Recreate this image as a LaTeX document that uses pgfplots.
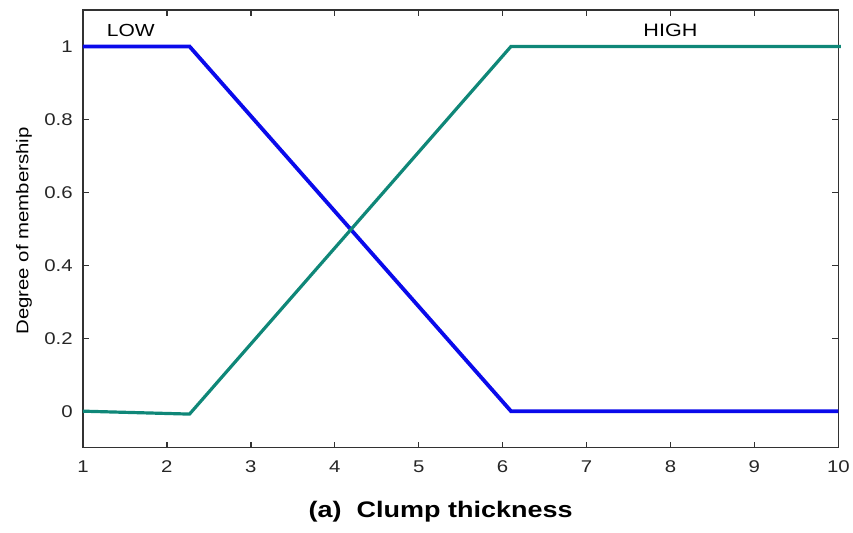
\documentclass[border=0pt]{standalone}
\usepackage{pgfplots}
\pgfplotsset{compat=1.18}
\usepackage{fontspec}
\setmainfont{Liberation Sans}[FakeStretch=1.2]
\definecolor{mfblue}{RGB}{10,10,235}
\definecolor{mfteal}{RGB}{15,135,120}
\definecolor{axgray}{RGB}{50,50,50}
\begin{document}
\begin{tikzpicture}
\begin{axis}[
  scale only axis,
  width=756pt, height=438pt,
  xmin=1, xmax=10, ymin=-0.1, ymax=1.1,
  xtick={1,2,...,10},
  ytick={0,0.2,0.4,0.6,0.8,1},
  yticklabels={0,0.2,0.4,0.6,0.8,1},
  tick align=inside,
  major tick length=6pt,
  axis line style={axgray, line width=1.6pt},
  tick style={axgray, line width=1.4pt},
  tick label style={font=\fontsize{17}{19}\selectfont, text=black!85},
  /pgf/number format/assume math mode=true,
  xticklabel style={anchor=center, yshift=-19pt},
  yticklabel style={anchor=east, inner sep=0pt, xshift=-10pt},
  ylabel={Degree of membership},
  ylabel style={font=\fontsize{17}{19}\selectfont, at={(rel axis cs:-0.078,0.495)}, anchor=center},
  clip=false,
]
\addplot[mfblue, line width=3.8pt] coordinates {(1,1) (2.27,1) (6.1,0) (10,0)};
\addplot[mfteal, line width=3.2pt] coordinates {(1,0) (2.27,-0.008) (6.1,1) (10.03,1)};
\node[font=\fontsize{17.5}{19}\selectfont] at (axis cs:1.57,1.044) {LOW};
\node[font=\fontsize{18}{20}\selectfont] at (axis cs:8.0,1.044) {HIGH};
\node[font=\bfseries\fontsize{22.5}{26}\selectfont, anchor=base] at (axis cs:5.262,-0.292) {(a)\ \ Clump thickness};
\end{axis}
\path[use as bounding box] ([xshift=-83pt,yshift=-85pt]current axis.south west) rectangle ([xshift=14pt,yshift=10pt]current axis.north east);
\end{tikzpicture}
\end{document}
